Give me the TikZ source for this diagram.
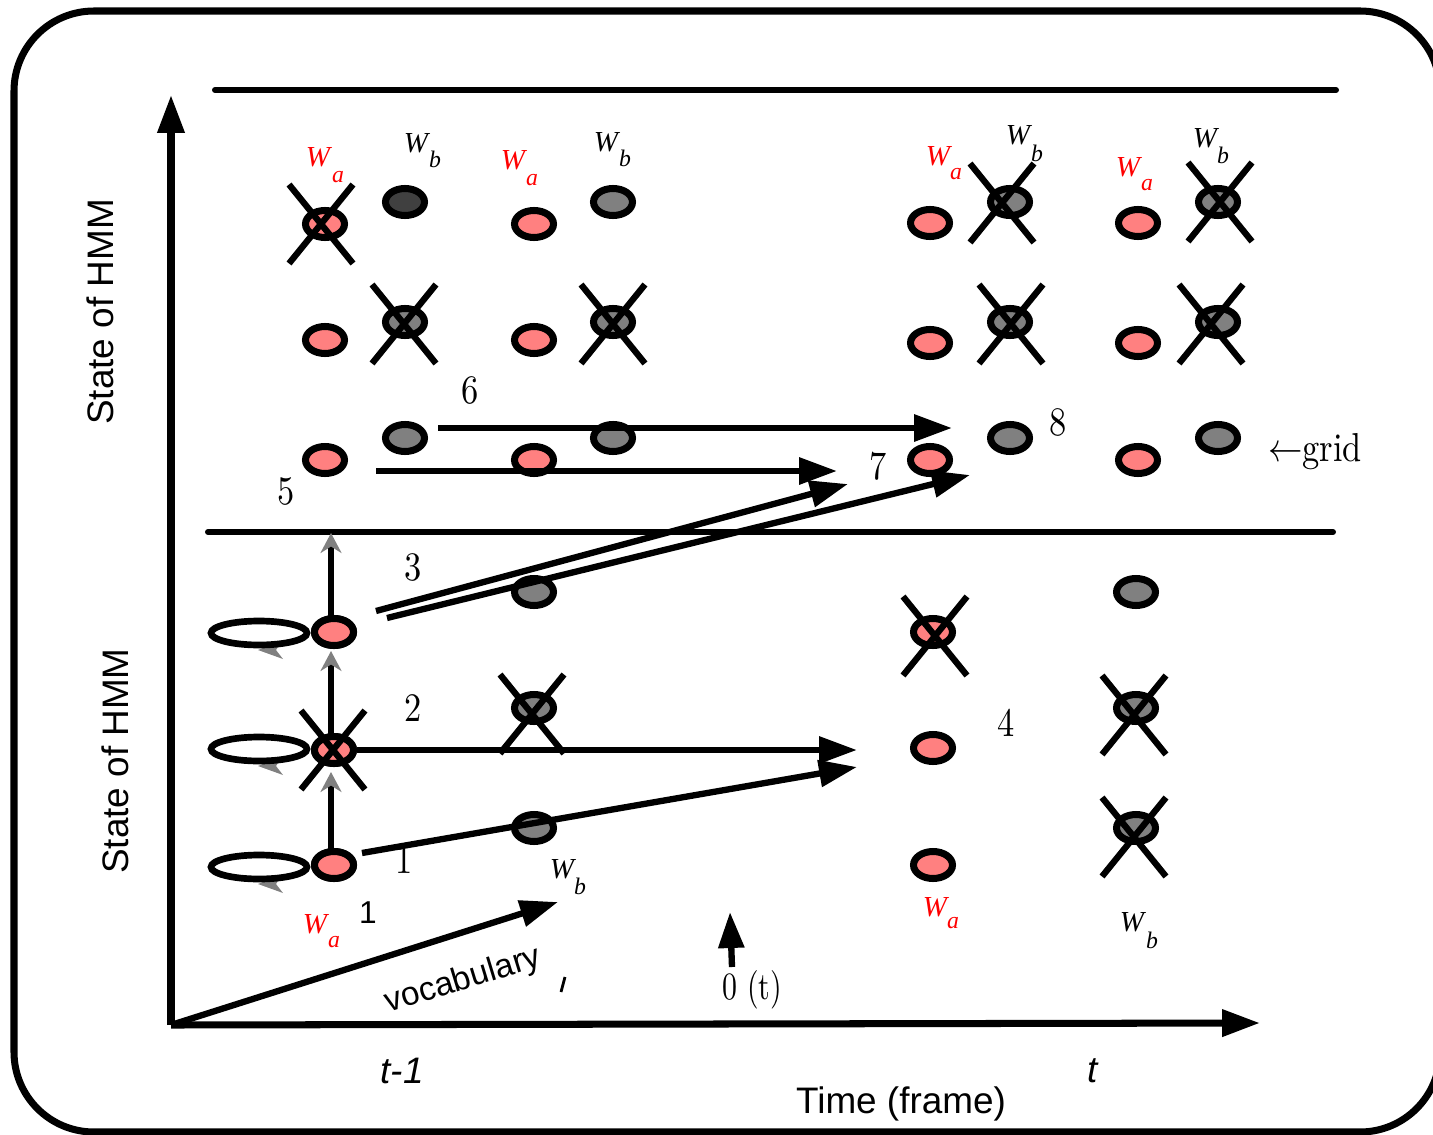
\documentclass[tikz,border=0pt]{standalone}
\usepackage{fontspec}
\newfontfamily\arialf{Liberation Sans}
\newfontfamily\timesf{Liberation Serif}
\usetikzlibrary{shapes.geometric,shapes.misc,arrows.meta}
\definecolor{pk}{HTML}{FF8080}
\definecolor{gy}{HTML}{808080}
\definecolor{dg}{HTML}{404040}
\newcommand\bigcm[1]{\scalebox{1.96}[2.3]{#1}}
\begin{document}
\begin{tikzpicture}[x=0.02cm,y=-0.02cm,
  st/.style={ellipse, draw=black, line width=4pt, minimum width=0.78cm, minimum height=0.54cm, inner sep=0pt},
  pkst/.style={st, fill=pk},
  gyst/.style={st, fill=gy},
  dgst/.style={st, fill=dg},
  xo/.style={cross out, draw=black, line width=3.6pt, minimum width=1.28cm, minimum height=1.58cm, inner sep=0pt, outer sep=0pt},
  loopst/.style={ellipse, draw=black, line width=3.8pt, minimum width=1.92cm, minimum height=0.48cm, inner sep=0pt},
  arr/.style={line width=3.6pt, -{Triangle[length=0.76cm,width=0.52cm]}},
  axis/.style={line width=4pt, -{Triangle[length=0.76cm,width=0.52cm]}},
  varr/.style={line width=3.8pt, -{Stealth[gy,length=0.4cm,width=0.42cm]}},
  hline/.style={line width=3.4pt, line cap=round},
  wl/.style={font=\timesf\itshape\fontsize{16.5}{16.5}\selectfont, inner sep=0pt},
  wsub/.style={font=\timesf\itshape\fontsize{13.5}{13.5}\selectfont, inner sep=0pt},
  num/.style={font=\fontsize{10}{10}\selectfont, inner sep=0pt},
  sans/.style={font=\arialf\fontsize{21}{21}\selectfont, inner sep=0pt},
]
\useasboundingbox (0,0) rectangle (1433,1135);
\draw[line width=4pt, rounded corners=1.6cm] (14,11) rectangle (1440,1132);

% axes
\coordinate (o) at (171,1025);
\coordinate (ytip) at (171,95);
\coordinate (xtip) at (1260,1023);
\draw[axis] (o) -- (ytip);
\draw[axis] (o) -- (xtip);

% separators
\draw[hline] (215,90) -- (1336,90);
\draw[hline] (208,532) -- (1333,532);

% loops with gray tips
\foreach \yy in {633,749,867}{
  \fill[gy] (258,\yy+17) -- (283,\yy+7) -- (276,\yy+17) -- (283,\yy+26) -- cycle;
}
\node[loopst] (l1) at (259,633) {};
\node[loopst] (l2) at (259,749) {};
\node[loopst] (l3) at (259,867) {};

% lower left states
\node[pkst] (p1) at (334,632) {};
\node[pkst] (p2) at (334,750) {};
\node[pkst] (p3) at (334,865) {};
\coordinate (m1) at (331,533);
\draw[varr] (331,852) -- (331,772);
\draw[varr] (331,736) -- (331,651);
\draw[varr] (331,619) -- (m1);
\node[pkst] at (p1) {};
\node[pkst] at (p2) {};
\node[pkst] at (p3) {};

% top grid
\node[pkst] (u1a) at (325,224) {};
\node[pkst] (u1b) at (325,340) {};
\node[pkst] (u1c) at (325,460) {};
\node[dgst] (u2a) at (405,202) {};
\node[gyst] (u2b) at (405,322) {};
\node[gyst] (u2c) at (405,438) {};
\node[pkst] (u3a) at (534,224) {};
\node[pkst] (u3b) at (534,340) {};
\node[pkst] (u3c) at (534,460) {};
\node[gyst] (u4a) at (613,202) {};
\node[gyst] (u4b) at (613,322) {};
\node[gyst] (u4c) at (613,438) {};
\node[pkst] (u5a) at (930,223) {};
\node[pkst] (u5b) at (930,343) {};
\node[pkst] (u5c) at (930,460) {};
\node[gyst] (u6a) at (1010,202) {};
\node[gyst] (u6b) at (1010,322) {};
\node[gyst] (u6c) at (1010,438) {};
\node[pkst] (u7a) at (1138,223) {};
\node[pkst] (u7b) at (1138,343) {};
\node[pkst] (u7c) at (1138,460) {};
\node[gyst] (u8a) at (1218,202) {};
\node[gyst] (u8b) at (1218,322) {};
\node[gyst] (u8c) at (1218,438) {};

% lower grid
\node[gyst] (q1) at (534,592) {};
\node[gyst] (q2) at (534,708) {};
\node[gyst] (q3) at (534,828) {};
\node[pkst] (r1) at (933,632) {};
\node[pkst] (r2) at (933,748) {};
\node[pkst] (r3) at (933,865) {};
\node[gyst] (s1) at (1136,592) {};
\node[gyst] (s2) at (1136,708) {};
\node[gyst] (s3) at (1136,828) {};

% crosses
\node[xo] (x1) at (321,224) {};
\node[xo] (x2) at (404,324) {};
\node[xo] (x3) at (613,324) {};
\node[xo] (x4) at (1002,203) {};
\node[xo] (x5) at (1011,324) {};
\node[xo] (x6) at (1220,202) {};
\node[xo] (x7) at (1211,324) {};
\node[xo] (x8) at (333,750) {};
\node[xo] (x9) at (532,714) {};
\node[xo] (x10) at (935,636) {};
\node[xo] (x11) at (1134,715) {};
\node[xo] (x12) at (1134,837) {};

% numbers
\node[num] (n1) at (404,860) {\bigcm{1}};
\node[num] (n2) at (413,708) {\bigcm{2}};
\node[num] (n3) at (413,567) {\bigcm{3}};
\node[num] (n4) at (1006,723) {\bigcm{4}};
\node[num] (n5) at (286,491) {\bigcm{5}};
\node[num] (n6) at (470,390) {\bigcm{6}};
\node[num] (n7) at (878,466) {\bigcm{7}};
\node[num] (n8) at (1058,422) {\bigcm{8}};
\node[num] (grid) at (1315,452) {\bigcm{$\leftarrow$grid}};

% transition arrows
\coordinate (c1s) at (362,853); \coordinate (c1e) at (857,767);
\coordinate (c2e) at (857,750);
\coordinate (c3as) at (376,611); \coordinate (c3ae) at (848,484);
\coordinate (c3bs) at (387,618); \coordinate (c3be) at (970,475);
\coordinate (c5s) at (376,471); \coordinate (c5e) at (837,471);
\coordinate (c6s) at (438,428); \coordinate (c6e) at (952,428);
\draw[arr] (c1s) -- (c1e);
\draw[arr] (p2.east) -- (c2e);
\draw[arr] (c3as) -- (c3ae);
\draw[arr] (c3bs) -- (c3be);
\draw[arr] (c5s) -- (c5e);
\draw[arr] (c6s) -- (c6e);

% vocabulary arrow
\coordinate (vtip) at (558,902);
\draw[arr] (o) -- (vtip);
\node[font=\arialf\fontsize{19}{19}\selectfont, rotate=17, inner sep=0pt] (voc) at (463,981) {vocabulary};
\draw[line width=1.6pt] (561,992) -- (565,977);

% 0(t) arrow
\coordinate (c0b) at (732,967); \coordinate (c0t) at (730,912);
\draw[line width=3.6pt, -{Triangle[length=0.72cm,width=0.5cm]}] (c0b) -- (c0t);
\node[num] (zt) at (752,990) {\scalebox{1.7}[2.2]{0 (t)}};

% W labels
\node[wl,red] at (318,157) {W}; \node[wsub,red] at (338,177) {a};
\node[wl] at (416,143) {W}; \node[wsub] at (435,159) {b};
\node[wl,red] at (513,160) {W}; \node[wsub,red] at (532,180) {a};
\node[wl] at (606,142) {W}; \node[wsub] at (625,158) {b};
\node[wl,red] at (938,156) {W}; \node[wsub,red] at (956,174) {a};
\node[wl] at (1018,135) {W}; \node[wsub] at (1037,153) {b};
\node[wl,red] at (1128,167) {W}; \node[wsub,red] at (1147,185) {a};
\node[wl] at (1205,138) {W}; \node[wsub] at (1223,155) {b};
\node[wl] at (562,869) {W}; \node[wsub] at (580,886) {b};
\node[wl,red] at (315,924) {W}; \node[wsub,red] at (334,942) {a};
\node[wl,red] at (935,907) {W}; \node[wsub,red] at (953,923) {a};
\node[wl] at (1132,922) {W}; \node[wsub] at (1152,940) {b};

% other text
\node[font=\arialf\fontsize{18}{18}\selectfont, inner sep=0pt] (one) at (368,913) {1};
\node[sans, rotate=90] (sh1) at (100,312) {State of HMM};
\node[sans, rotate=90] (sh2) at (115,761) {State of HMM};
\node[sans, font=\arialf\itshape\fontsize{21}{21}\selectfont] (tm1) at (402,1071) {t-1};
\node[sans, font=\arialf\itshape\fontsize{21}{21}\selectfont] (tt) at (1093,1071) {t};
\node[sans] (time) at (901,1104) {Time (frame)};
\end{tikzpicture}
\end{document}
